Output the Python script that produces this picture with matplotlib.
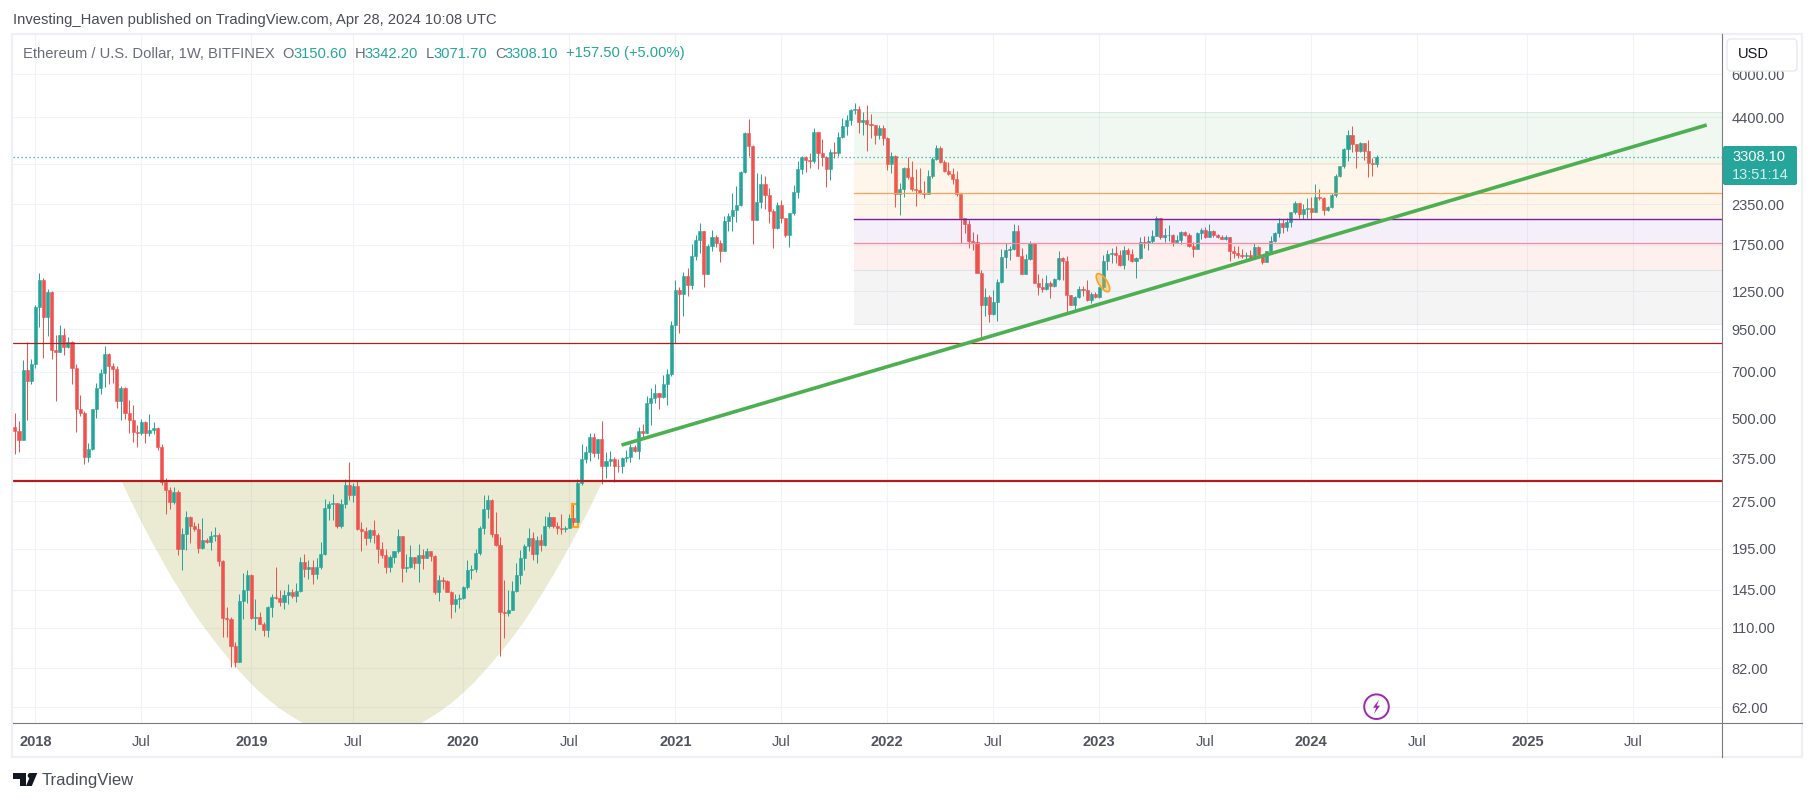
import numpy as np
import matplotlib
matplotlib.use("Agg")
import matplotlib.pyplot as plt
from matplotlib.lines import Line2D
from matplotlib.patches import Circle, Ellipse, FancyBboxPatch, Polygon, Rectangle
from matplotlib.ticker import NullLocator
from matplotlib.transforms import Affine2D, IdentityTransform

# weekly candles, week 0 is the first week of 2018
first_week = -5
first_open = 469

closes = [
    456, 427, 709, 656, 740, 1117, 1358, 1043, 1244, 821,
    808, 913, 836, 865, 721, 536, 520, 379, 400, 535,
    622, 695, 795, 730, 716, 568, 622, 520, 494, 453,
    449, 487, 449, 459, 466, 406, 315, 298, 274, 294,
    194, 217, 245, 229, 225, 196, 208, 205, 214, 215,
    178, 118, 117, 96.5, 86, 134, 145, 161, 118, 119,
    113, 108, 128, 137, 136, 133, 139, 142, 138, 144,
    177, 168, 171, 162, 171, 188, 261, 269, 271, 230,
    269, 308, 287, 306, 225, 222, 211, 223, 215, 194,
    186, 171, 183, 191, 214, 169, 171, 183, 176, 186,
    182, 191, 185, 142, 155, 154, 143, 131, 135, 136,
    148, 167, 168, 189, 227, 260, 277, 217, 200, 123,
    122, 125, 144, 161, 182, 199, 211, 187, 208, 200,
    229, 245, 229, 226, 225, 227, 243, 236, 313, 373,
    392, 436, 390, 430, 353, 367, 373, 355, 353, 375,
    379, 406, 396, 456, 449, 560, 577, 600, 583, 640,
    690, 980, 1263, 1228, 1398, 1310, 1615, 1813, 1935, 1418,
    1739, 1853, 1775, 1674, 2080, 2160, 2252, 2335, 2965, 3935,
    3575, 2095, 2385, 2720, 2505, 2235, 1977, 2335, 2125, 1880,
    2210, 2565, 3030, 3300, 3232, 3200, 3960, 3390, 3300, 3030,
    3420, 3390, 3830, 4130, 4315, 4640, 4660, 4260, 4315, 4200,
    4150, 3880, 4080, 3790, 3150, 3320, 2530, 2620, 3060, 2860,
    2620, 2605, 2550, 2520, 2880, 3260, 3530, 3190, 2985, 2930,
    2820, 2520, 2130, 2030, 1805, 1790, 1430, 1130, 1200, 1065,
    1155, 1340, 1604, 1687, 1700, 1935, 1615, 1418, 1580, 1775,
    1330, 1290, 1270, 1330, 1300, 1368, 1590, 1558, 1220, 1135,
    1200, 1275, 1263, 1175, 1225, 1200, 1290, 1558, 1640, 1655,
    1630, 1515, 1687, 1640, 1558, 1590, 1790, 1775, 1800, 1870,
    2125, 1850, 1880, 1885, 1790, 1813, 1920, 1880, 1740, 1705,
    1910, 1949, 1850, 1935, 1880, 1850, 1830, 1850, 1673, 1650,
    1630, 1615, 1630, 1595, 1725, 1630, 1545, 1675, 1800, 1910,
    2045, 1995, 2065, 2215, 2370, 2190, 2270, 2285, 2225, 2480,
    2460, 2252, 2300, 2510, 2880, 3100, 3500, 3880, 3630, 3440,
    3660, 3440, 3160, 3150.6, 3308.1,
]

highs = [
    518, 489, 762, 867, 767, 1130, 1424, 1378, 1270, 1255,
    913, 980, 958, 897, 873, 740, 591, 527, 417, 535,
    647, 716, 843, 800, 745, 727, 630, 627, 571, 550,
    476, 498, 489, 516, 487, 468, 416, 325, 304, 304,
    298, 227, 256, 247, 236, 234, 244, 211, 221, 228,
    218, 180, 128, 119, 99, 140, 164, 167, 162, 135,
    123, 115, 129, 140, 171, 145, 145, 151, 146, 152,
    183, 188, 179, 179, 182, 205, 279, 275, 289, 271,
    279, 323, 365, 313, 320, 237, 228, 225, 240, 219,
    205, 194, 186, 192, 225, 214, 188, 200, 183, 202,
    194, 196, 192, 186, 161, 159, 155, 144, 140, 140,
    149, 180, 173, 194, 229, 287, 287, 279, 254, 212,
    155, 145, 154, 176, 193, 202, 227, 220, 213, 217,
    247, 254, 245, 236, 250, 229, 250, 269, 323, 416,
    409, 449, 451, 430, 489, 392, 396, 377, 373, 379,
    398, 416, 413, 469, 480, 589, 622, 640, 600, 682,
    716, 1010, 1358, 1290, 1440, 1480, 1767, 1880, 2045, 1935,
    1760, 1949, 1880, 1813, 2160, 2210, 2545, 2670, 2985, 3960,
    4360, 3600, 2945, 2920, 2880, 2640, 2270, 2385, 2421, 2130,
    2210, 2690, 3200, 3330, 3330, 3390, 4085, 3960, 3760, 3320,
    3500, 3680, 3960, 4370, 4475, 4680, 4870, 4780, 4570, 4800,
    4510, 4150, 4150, 4150, 3830, 3420, 3360, 2730, 3080, 3300,
    3210, 3030, 3040, 2770, 3000, 3300, 3590, 3570, 3232, 3190,
    3040, 2985, 2530, 2130, 2095, 1920, 1895, 1460, 1280, 1215,
    1263, 1368, 1700, 1775, 1740, 2030, 2020, 1710, 1640, 1800,
    1775, 1418, 1378, 1410, 1350, 1378, 1670, 1600, 1615, 1220,
    1210, 1300, 1300, 1358, 1245, 1245, 1290, 1630, 1687, 1710,
    1730, 1687, 1740, 1710, 1700, 1600, 1850, 1865, 1865, 1949,
    2160, 2125, 1975, 2020, 1895, 1880, 1935, 1935, 1910, 1790,
    1920, 1975, 1990, 2030, 1949, 1895, 1880, 1880, 1850, 1740,
    1740, 1695, 1660, 1687, 1775, 1740, 1630, 1675, 1870, 1920,
    2130, 2115, 2130, 2225, 2400, 2370, 2345, 2460, 2475, 2720,
    2620, 2480, 2320, 2550, 2920, 3100, 3530, 4014, 4130, 3630,
    3680, 3660, 3734, 3270, 3342.2,
]

lows = [
    387, 392, 427, 494, 640, 721, 968, 775, 906, 767,
    568, 808, 790, 830, 640, 453, 507, 360, 365, 398,
    501, 597, 627, 640, 644, 539, 494, 498, 449, 421,
    406, 443, 417, 440, 446, 398, 308, 251, 260, 269,
    186, 167, 193, 203, 221, 189, 194, 203, 193, 206,
    172, 103, 103, 82.7, 83, 86, 117, 132, 117, 108,
    113, 104, 103, 119, 135, 129, 126, 131, 136, 133,
    142, 159, 157, 151, 157, 168, 186, 240, 240, 226,
    227, 262, 277, 273, 223, 192, 200, 205, 203, 176,
    182, 164, 165, 176, 189, 153, 165, 169, 168, 153,
    168, 182, 178, 140, 134, 146, 142, 118, 123, 127,
    135, 146, 157, 165, 186, 217, 244, 212, 199, 90,
    102, 120, 125, 143, 151, 167, 191, 180, 176, 192,
    199, 226, 226, 217, 216, 220, 227, 228, 236, 308,
    361, 367, 379, 373, 311, 325, 355, 315, 340, 337,
    365, 365, 392, 373, 430, 449, 475, 560, 535, 577,
    550, 680, 860, 925, 1050, 1208, 1272, 1569, 1650, 1290,
    1418, 1674, 1720, 1545, 1674, 1935, 1935, 2065, 2320, 2945,
    3320, 1767, 2095, 2285, 2270, 2045, 1710, 1964, 2045, 1853,
    1720, 2175, 2460, 2920, 2965, 3060, 3170, 3030, 3100, 2660,
    2797, 3280, 3320, 3790, 3880, 4150, 4510, 3930, 3880, 3440,
    3800, 3630, 3760, 3590, 3000, 2950, 2300, 2175, 2480, 2820,
    2580, 2320, 2530, 2460, 2520, 2840, 3232, 3170, 2965, 2910,
    2720, 2490, 1775, 1910, 1710, 1687, 1430, 880, 1050, 1000,
    1055, 1010, 1330, 1480, 1569, 1687, 1615, 1418, 1418, 1569,
    1330, 1220, 1245, 1263, 1190, 1290, 1358, 1358, 1075, 1135,
    1093, 1190, 1210, 1165, 1150, 1190, 1190, 1275, 1460, 1530,
    1530, 1500, 1470, 1569, 1545, 1378, 1580, 1710, 1687, 1775,
    1865, 1830, 1790, 1800, 1740, 1775, 1767, 1870, 1725, 1600,
    1695, 1830, 1840, 1850, 1850, 1840, 1830, 1813, 1555, 1595,
    1595, 1595, 1569, 1569, 1595, 1630, 1520, 1545, 1660, 1790,
    1850, 1910, 1935, 1990, 2190, 2130, 2115, 2130, 2115, 2225,
    2420, 2175, 2235, 2285, 2480, 2860, 3060, 3200, 3420, 3060,
    3420, 3232, 2860, 2880, 3071.7,
]

time_ticks = [0, 26, 53, 78, 105, 131, 157, 183, 209, 235, 261, 287, 313, 339, 366, 392]
time_labels = ["2018", "Jul", "2019", "Jul", "2020", "Jul", "2021", "Jul", "2022", "Jul",
               "2023", "Jul", "2024", "Jul", "2025", "Jul"]

price_ticks = [6000, 4400, 3150, 2350, 1750, 1250, 950, 700, 500, 375, 275, 195, 145, 110, 82, 62]
price_labels = ["6000.00", "4400.00", "", "2350.00", "1750.00", "1250.00", "950.00", "700.00",
                "500.00", "375.00", "275.00", "195.00", "145.00", "110.00", "82.00", "62.00"]

# drawings on the chart
support_top = 859
support_low = 318.5
trend_weeks = [143.8, 410]
trend_prices = [412, 4162]
fib_start = 200.8
fib_edges = [4562, 3157, 2112, 1768, 1460, 986]
fib_colors = ["#4caf50", "#ff9800", "#8035b5", "#f44336", "#787b86"]
fib_mid = 2544

cup_weeks = [21.1, 23.2, 25.7, 28.1, 30.6, 33.0, 35.5, 37.9, 40.4, 42.9, 45.3, 47.8, 50.2, 52.7, 55.1,
             57.6, 60.0, 62.5, 65.6, 80.1, 94.7, 97.8, 100.2, 102.7, 105.1, 107.6, 110.0, 112.5, 115.0,
             117.4, 119.9, 122.3, 124.8, 127.2, 129.7, 132.1, 134.6, 137.1, 139.2]
cup_prices = [318.5, 279, 241, 210, 184, 162, 144, 128, 115, 104, 95, 86.8, 80, 74, 69,
              64.8, 61.3, 58.4, 55.3, 49.5, 55.3, 58.4, 61.3, 64.8, 69, 74, 80, 86.8, 95,
              104, 115, 128, 144, 162, 184, 210, 241, 279, 318.5]

W, H = 1815, 802
up = "#26a69a"
down = "#ef5350"
grid = "#f0f3fa"
axis_line = "#787b86"
text_dark = "#4a4d57"
text_axis = "#50535e"

plt.rcParams["font.family"] = ["Liberation Sans", "DejaVu Sans"]

closes = np.array(closes, dtype=float)
highs = np.array(highs, dtype=float)
lows = np.array(lows, dtype=float)
opens = np.r_[first_open, closes[:-1]]
weeks = np.arange(first_week, first_week + len(closes))
colors = [up if c >= o else down for o, c in zip(opens, closes)]

fig = plt.figure(figsize=(W / 100, H / 100), dpi=100, facecolor="white")
# layout below is in screen pixels, y going down
px = Affine2D().scale(1 / W, -1 / H).translate(0, 1) + fig.transFigure

ax = fig.add_axes([13 / W, 1 - 723 / H, (1722 - 13) / W, (723 - 35) / H])
ax.set_yscale("log")
ax.set_xlim(-5.47, 413.75)
ax.set_ylim(55.3, 7975)
for s in ax.spines.values():
    s.set_visible(False)

ax.set_xticks(time_ticks)
ax.set_xticklabels(time_labels)
ax.set_yticks(price_ticks)
ax.set_yticklabels(price_labels)
ax.yaxis.set_minor_locator(NullLocator())
ax.yaxis.tick_right()
ax.tick_params(axis="both", length=0, labelsize=10.5, labelcolor=text_axis)
ax.tick_params(axis="x", pad=9)
ax.tick_params(axis="y", pad=7)
for lab, name in zip(ax.get_xticklabels(), time_labels):
    if name != "Jul":
        lab.set_fontweight("bold")
ax.grid(True, color=grid, linewidth=0.8)
ax.set_axisbelow(True)

ax.fill(cup_weeks, cup_prices, color=(0.55, 0.55, 0.0, 0.17), linewidth=0, zorder=1)

ax.vlines(weeks, lows, highs, colors=colors, linewidth=0.72, zorder=2)
ax.bar(weeks, np.abs(closes - opens), bottom=np.minimum(opens, closes), width=0.76,
       color=colors, edgecolor=colors, linewidth=0.4, zorder=3)

right = ax.get_xlim()[1]
for i, c in enumerate(fib_colors):
    ax.fill_between([fib_start, right], fib_edges[i + 1], fib_edges[i], color=c,
                    alpha=0.08, linewidth=0, zorder=4)
    ax.plot([fib_start, right], [fib_edges[i + 1]] * 2, color=fib_colors[min(i + 1, 4)],
            alpha=0.15, linewidth=0.8, zorder=4)
ax.plot([fib_start, right], [fib_edges[0]] * 2, color="#4caf50", alpha=0.15, linewidth=0.8, zorder=4)
ax.plot([fib_start, right], [fib_mid] * 2, color="#f7a35c", linewidth=0.9, zorder=5)
ax.plot([fib_start, right], [fib_edges[2]] * 2, color="#7b1fa2", linewidth=1.0, zorder=5)
ax.plot([fib_start, right], [fib_edges[3]] * 2, color="#ef8f9c", linewidth=0.9, zorder=5)

ax.axhline(closes[-1], color=up, linewidth=0.9, linestyle=(0, (1, 2.2)), zorder=5)
ax.axhline(support_top, color="#b71c1c", linewidth=0.9, zorder=5)
ax.axhline(support_low, color="#b71c1c", linewidth=1.6, zorder=5)
ax.plot(trend_weeks, trend_prices, color="#4caf50", linewidth=2.6, solid_capstyle="butt", zorder=6)

# small orange marks
ax.add_patch(Rectangle((131.6, 228), 1.5, 41, fill=False, edgecolor="#f5a623", linewidth=1.6, zorder=2.5))
fig.canvas.draw()
cx, cy = ax.transData.transform((261.9, 1332))
ax.add_patch(Ellipse((cx, cy), 21, 8.5, angle=-57, transform=IdentityTransform(),
                     facecolor=(0.96, 0.65, 0.14, 0.4), edgecolor="#f5a623", linewidth=1.2, zorder=6))

# frame and axis lines
fig.add_artist(Rectangle((12, 34), 1790, 723, transform=px, fill=False, edgecolor="#eef0f6", linewidth=1.6, zorder=1))
fig.add_artist(Line2D([13, 1802], [723, 723], transform=px, color=axis_line, linewidth=0.8, zorder=2))
fig.add_artist(Line2D([1722, 1722], [34, 757], transform=px, color=axis_line, linewidth=0.8, zorder=2))

# price tag and currency button
fig.add_artist(FancyBboxPatch((1723, 146), 74, 39, boxstyle="round,pad=0,rounding_size=2", transform=px,
                              facecolor=up, edgecolor=up, linewidth=0, zorder=5))
fig.text(1732, 157, "3308.10", transform=px, color="white", fontsize=10.5, va="center", zorder=6)
fig.text(1732, 175, "13:51:14", transform=px, color="#d4eeeb", fontsize=10.5, va="center", zorder=6)
fig.add_artist(FancyBboxPatch((1727, 39), 70, 32, boxstyle="round,pad=0,rounding_size=4", transform=px,
                              facecolor="white", edgecolor="#e8e9ee", linewidth=1, zorder=5))
fig.text(1738, 54.5, "USD", transform=px, color="#131722", fontsize=10.5, va="center", zorder=6)

# header and legend
fig.text(13, 20, "Investing_Haven published on TradingView.com, Apr 28, 2024 10:08 UTC", transform=px,
         color=text_dark, fontsize=10.6, va="center")
fig.text(23, 53.5, "Ethereum / U.S. Dollar, 1W, BITFINEX", transform=px, color="#6a6d78", fontsize=10.6, va="center")
for x, s, c in [(282.6, "O", "#6a6d78"), (293.8, "3150.60", up), (355, "H", "#6a6d78"), (365, "3342.20", up),
                (426, "L", "#6a6d78"), (434, "3071.70", up), (495.5, "C", "#6a6d78"), (505, "3308.10", up),
                (566, "+157.50 (+5.00%)", up)]:
    fig.text(x, 53.5, s, transform=px, color=c, fontsize=10.6, va="center")

# lightning badge
fig.add_artist(Circle((1376.5, 706.7), 12.3, transform=px, fill=False, edgecolor="#9c27b0", linewidth=1.4, zorder=4))
bolt = np.array([[2.5, -7], [-3.5, 1], [-0.3, 1], [-2.5, 7], [3.5, -1], [0.3, -1]]) + [1376.5, 706.7]
fig.add_artist(Polygon(bolt, closed=True, transform=px, facecolor="#9c27b0", edgecolor="none", zorder=4))

# logo
fig.add_artist(Polygon([(13.4, 773), (26, 773), (26, 786), (20, 786), (20, 778.5), (13.4, 778.5)], closed=True,
                       transform=px, facecolor="#131722", edgecolor="none"))
fig.add_artist(Circle((30.3, 775.6), 2.6, transform=px, facecolor="#131722", edgecolor="none"))
fig.add_artist(Polygon([(31.5, 773), (37.3, 773), (31.8, 786), (26, 786)], closed=True, transform=px,
                       facecolor="#131722", edgecolor="none"))
fig.text(42, 781, "TradingView", transform=px, color=text_dark, fontsize=12, va="center")

fig.savefig("out.png", dpi=100, facecolor="white")
